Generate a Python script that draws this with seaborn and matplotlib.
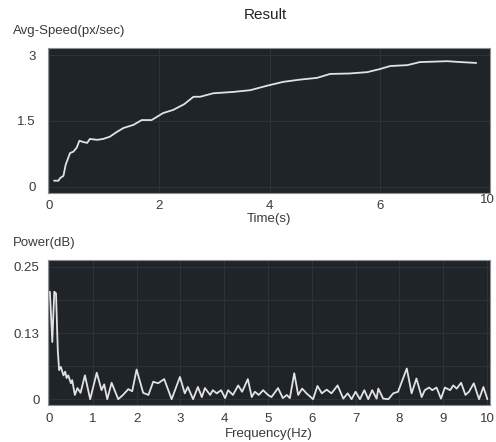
import matplotlib
matplotlib.use("Agg")
import matplotlib.pyplot as plt
import matplotlib.transforms as mtransforms
import seaborn as sns
import pandas as pd

# ---- data ----
time_s = [0.09, 0.17, 0.20, 0.26, 0.30, 0.38, 0.44, 0.50, 0.55, 0.62, 0.69, 0.74,
          0.87, 0.98, 1.10, 1.23, 1.35, 1.53, 1.68, 1.86, 2.07, 2.25, 2.45, 2.62,
          2.74, 2.98, 3.34, 3.65, 3.95, 4.25, 4.55, 4.86, 5.10, 5.45, 5.77, 6.00,
          6.19, 6.50, 6.73, 7.00, 7.22, 7.46, 7.75]
avg_speed = [0.14, 0.14, 0.20, 0.25, 0.50, 0.77, 0.80, 0.89, 1.05, 1.02, 1.00, 1.09,
             1.07, 1.09, 1.14, 1.25, 1.34, 1.41, 1.52, 1.52, 1.68, 1.75, 1.88, 2.05,
             2.05, 2.13, 2.16, 2.20, 2.30, 2.39, 2.44, 2.48, 2.57, 2.58, 2.61, 2.68,
             2.75, 2.77, 2.84, 2.85, 2.86, 2.84, 2.82]

freq_hz = [0.02, 0.075, 0.12, 0.16, 0.20, 0.23, 0.27, 0.33, 0.37, 0.40, 0.44, 0.50,
           0.53, 0.59, 0.65, 0.72, 0.82, 0.94, 1.09, 1.20, 1.26, 1.33, 1.43, 1.58,
           1.69, 1.81, 1.90, 2.00, 2.15, 2.27, 2.38, 2.49, 2.63, 2.80, 2.99, 3.10,
           3.17, 3.29, 3.40, 3.49, 3.56, 3.68, 3.74, 3.83, 3.93, 4.02, 4.09, 4.20,
           4.32, 4.41, 4.54, 4.63, 4.70, 4.79, 4.89, 5.00, 5.08, 5.23, 5.34, 5.43,
           5.50, 5.60, 5.69, 5.78, 5.88, 6.03, 6.13, 6.23, 6.34, 6.45, 6.59, 6.72,
           6.82, 6.91, 7.00, 7.10, 7.20, 7.29, 7.38, 7.48, 7.52, 7.63, 7.75, 7.86,
           7.97, 8.17, 8.28, 8.39, 8.51, 8.58, 8.68, 8.75, 8.85, 8.95, 9.04, 9.16,
           9.23, 9.31, 9.41, 9.51, 9.59, 9.70, 9.82, 9.92, 10.01]
power_db = [0.203, 0.108, 0.203, 0.200, 0.093, 0.055, 0.061, 0.045, 0.052, 0.040, 0.045, 0.030,
            0.036, 0.008, 0.021, 0.012, 0.045, 0.000, 0.050, 0.017, 0.028, 0.000, 0.031, 0.000,
            0.008, 0.019, 0.015, 0.056, 0.012, 0.008, 0.033, 0.030, 0.038, 0.000, 0.042, 0.011,
            0.023, 0.000, 0.023, 0.004, 0.021, 0.008, 0.017, 0.011, 0.017, 0.002, 0.017, 0.008,
            0.026, 0.014, 0.038, 0.004, 0.014, 0.008, 0.017, 0.008, 0.004, 0.021, 0.002, 0.008,
            0.002, 0.049, 0.008, 0.020, 0.011, 0.000, 0.025, 0.011, 0.018, 0.011, 0.026, 0.001,
            0.011, 0.000, 0.014, 0.000, 0.017, 0.000, 0.017, 0.001, 0.020, 0.001, 0.000, 0.011,
            0.014, 0.058, 0.011, 0.039, 0.004, 0.017, 0.022, 0.017, 0.022, 0.001, 0.022, 0.017,
            0.026, 0.020, 0.031, 0.008, 0.014, 0.030, 0.000, 0.023, 0.000]

top_xticks = [0, 2, 4, 6, 8]
top_xticklabels = ["0", "2", "4", "6", "10"]
top_yticks = [0, 1.5, 3]
top_yticklabels = ["0", "1.5", "3"]
bot_xticks = list(range(0, 11))
bot_yticks = [0, 0.125, 0.25]
bot_yticklabels = ["0", "0.13", "0.25"]

# ---- style ----
face = "#1f2428"
grid_c = "#2c3236"
text_c = "#3a3a3a"
sns.set_theme(style="dark", rc={
    "axes.facecolor": face,
    "axes.edgecolor": "#8c9094",
    "axes.linewidth": 0.8,
    "grid.color": grid_c,
    "grid.linewidth": 0.8,
    "xtick.color": text_c,
    "ytick.color": text_c,
    "text.color": text_c,
    "axes.labelcolor": text_c,
})
plt.rcParams["font.family"] = ["Liberation Sans", "DejaVu Sans"]

W, H = 496, 442
fig = plt.figure(figsize=(W / 100, H / 100), dpi=100)
fig.patch.set_facecolor("white")

def ax_rect(l, t, r, b):
    return [l / W, 1 - b / H, (r - l) / W, (b - t) / H]

ax1 = fig.add_axes(ax_rect(48, 48, 490, 193))
ax2 = fig.add_axes(ax_rect(48, 260, 490, 405))

df1 = pd.DataFrame({"t": time_s, "v": avg_speed})
df2 = pd.DataFrame({"f": freq_hz, "p": power_db})

line_c = "#e2e2e2"
sns.lineplot(data=df1, x="t", y="v", ax=ax1, color=line_c, linewidth=1.3, sort=False,
             solid_joinstyle="round", solid_capstyle="round")
sns.lineplot(data=df2, x="f", y="p", ax=ax2, color=line_c, linewidth=1.3, sort=False,
             solid_joinstyle="round", solid_capstyle="round")

fs = 9.5
# top axes
ax1.set_xlim(-0.02, 8.0)
ax1.set_ylim(-0.14, 3.16)
ax1.set_xticks(top_xticks)
ax1.set_xticklabels(top_xticklabels, fontsize=fs)
ax1.set_yticks(top_yticks)
ax1.set_yticklabels(top_yticklabels, fontsize=fs)
ax1.tick_params(axis="x", length=0, pad=5)
ax1.tick_params(axis="y", length=0, pad=9)
ax1.grid(True, color=grid_c, linewidth=0.8)
ax1.set_xlabel("Time(s)", fontsize=fs, labelpad=1)
ax1.set_ylabel("")
lbl = ax1.get_xticklabels()[-1]
lbl.set_transform(lbl.get_transform() +
                  mtransforms.ScaledTranslation(-2 / 72, 4 / 72, fig.dpi_scale_trans))

# bottom axes
ax2.set_xlim(-0.023, 10.07)
ax2.set_ylim(-0.011, 0.263)
ax2.set_xticks(bot_xticks)
ax2.set_xticklabels([str(v) for v in bot_xticks], fontsize=fs)
ax2.set_yticks(bot_yticks)
ax2.set_yticklabels(bot_yticklabels, fontsize=fs)
ax2.set_yticks([0.0625, 0.1875], minor=True)
ax2.tick_params(axis="both", which="both", length=0)
ax2.tick_params(axis="x", pad=6)
ax2.tick_params(axis="y", pad=6)
ax2.grid(True, which="both", color=grid_c, linewidth=0.8)
ax2.set_xlabel("Frequency(Hz)", fontsize=fs, labelpad=2)
ax2.set_ylabel("")

for ax in (ax1, ax2):
    for s in ax.spines.values():
        s.set_visible(True)
        s.set_color("#8c9094")
        s.set_linewidth(0.8)

fig.text(13 / W, 1 - 31 / H, "Avg-Speed(px/sec)", fontsize=fs, ha="left", va="center")
fig.text(13 / W, 1 - 243 / H, "Power(dB)", fontsize=fs, ha="left", va="center")
fig.text(265 / W, 1 - 15 / H, "Result", fontsize=11, ha="center", va="center", color="#222222")

fig.savefig("out.png", dpi=100, facecolor="white")
